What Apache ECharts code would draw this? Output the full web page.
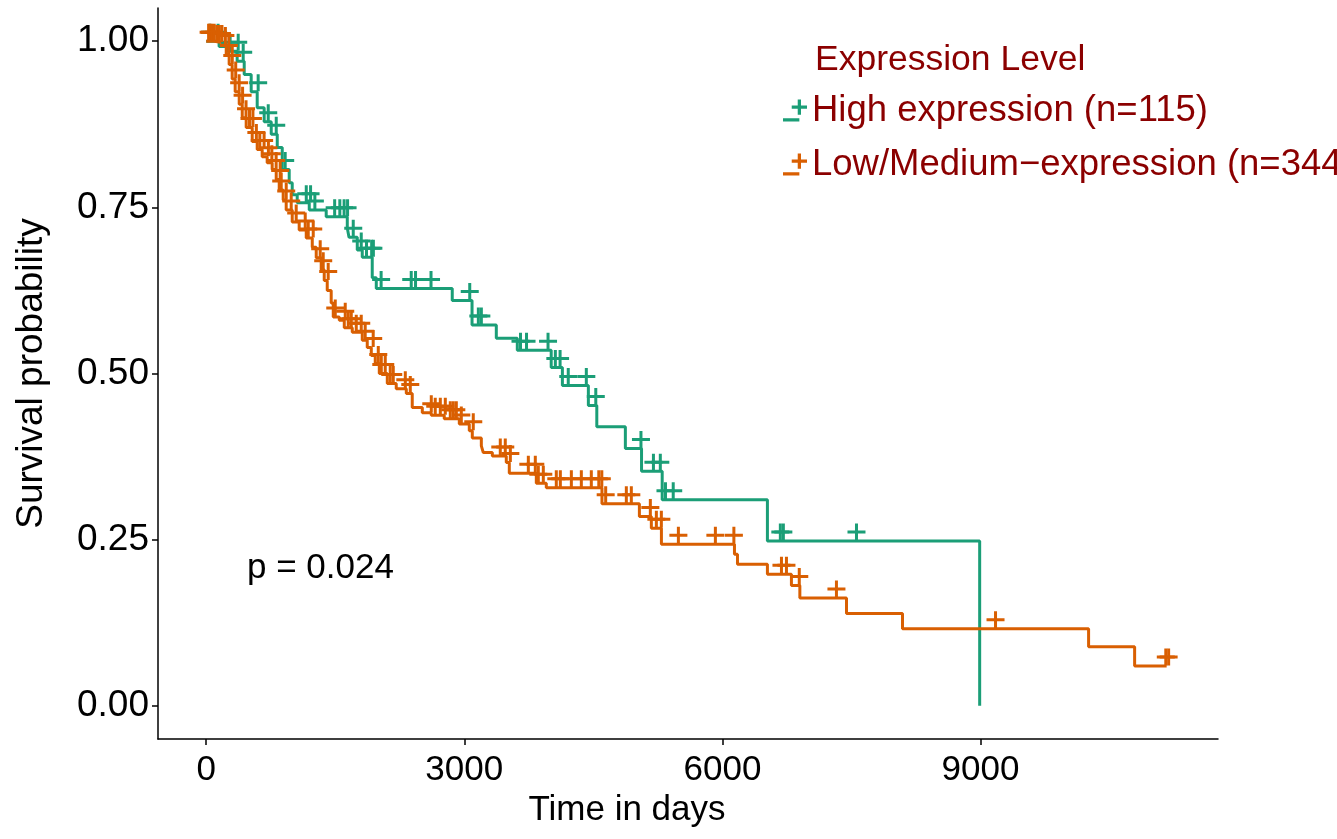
<!DOCTYPE html>
<html><head><meta charset="utf-8">
<script src="https://cdn.jsdelivr.net/npm/echarts@6/dist/echarts.min.js"></script>
<style>html,body{margin:0;padding:0;background:#fff}#c{width:1337px;height:839px}</style>
</head><body><div id="c"></div>
<script>
// ---- data ----
const seriesNames = ['High expression (n=115)', 'Low/Medium\u2212expression (n=344)'];
const legendTitle = 'Expression Level';
const pValueText = 'p = 0.024';
const xTicks = [0, 3000, 6000, 9000];
const yTicks = [0, 0.25, 0.5, 0.75, 1];

const highTimes = [0, 150, 245, 360, 442, 523, 593, 674, 756, 826, 884, 965, 1000, 1058, 1198, 1395, 1640, 1660, 1756, 1814, 1930, 1977, 2860, 3090, 3372, 3616, 4010, 4140, 4442, 4540, 4872, 5060, 5300, 6523, 8990];
const highSurv = [1.0, 0.992, 0.985, 0.970, 0.950, 0.924, 0.900, 0.879, 0.860, 0.840, 0.807, 0.787, 0.769, 0.757, 0.746, 0.736, 0.719, 0.705, 0.686, 0.675, 0.644, 0.628, 0.610, 0.573, 0.553, 0.535, 0.509, 0.482, 0.452, 0.420, 0.387, 0.353, 0.310, 0.248, 0.0];
const highCensor = [20, 115, 255, 349, 407, 581, 698, 791, 895, 1140, 1190, 1240, 1470, 1530, 1580, 1620, 1686, 1779, 1840, 1900, 1920, 2010, 2360, 2410, 2590, 3040, 3140, 3175, 3630, 3700, 3950, 4035, 4090, 4185, 4395, 4505, 5030, 5175, 5255, 5315, 5405, 6650, 6685, 7535];

const lowTimes = [0, 93, 186, 233, 267, 302, 337, 384, 419, 465, 535, 593, 651, 709, 767, 814, 849, 895, 930, 1000, 1081, 1163, 1233, 1279, 1337, 1372, 1407, 1453, 1477, 1547, 1605, 1698, 1814, 1872, 1919, 1965, 2012, 2105, 2209, 2326, 2395, 2512, 2616, 2767, 2942, 3058, 3093, 3198, 3221, 3326, 3488, 3523, 3837, 3953, 4600, 5035, 5174, 5291, 6140, 6175, 6523, 6802, 6900, 7442, 8093, 10256, 10791, 11163];
const lowSurv = [1.0, 0.998, 0.995, 0.980, 0.965, 0.943, 0.924, 0.905, 0.885, 0.870, 0.849, 0.837, 0.826, 0.817, 0.807, 0.792, 0.776, 0.761, 0.746, 0.728, 0.716, 0.704, 0.690, 0.674, 0.656, 0.640, 0.625, 0.606, 0.585, 0.580, 0.569, 0.562, 0.550, 0.539, 0.527, 0.515, 0.500, 0.485, 0.477, 0.470, 0.449, 0.441, 0.437, 0.432, 0.424, 0.414, 0.403, 0.391, 0.381, 0.376, 0.366, 0.350, 0.335, 0.328, 0.304, 0.285, 0.267, 0.243, 0.228, 0.213, 0.198, 0.181, 0.162, 0.139, 0.116, 0.089, 0.060, 0.060];
const lowCensor = [5, 20, 40, 70, 100, 130, 160, 200, 240, 280, 320, 360, 400, 440, 480, 520, 560, 600, 650, 700, 740, 790, 837, 849, 907, 965, 1023, 1128, 1163, 1221, 1302, 1337, 1395, 1477, 1593, 1628, 1663, 1721, 1779, 1825, 1918, 1977, 2012, 2058, 2116, 2151, 2291, 2349, 2593, 2639, 2698, 2756, 2814, 2849, 2884, 2942, 3081, 3395, 3453, 3512, 3721, 3802, 3837, 3895, 4046, 4093, 4221, 4337, 4453, 4540, 4575, 4620, 4860, 4918, 5139, 5209, 5267, 5465, 5895, 6110, 6663, 6721, 6870, 7302, 9151, 11130, 11163];

// ---- helpers ----
const FONT = '"Liberation Sans", Arial, Helvetica, sans-serif';
const colors = ['#1B9E77', '#D95F02'];
function stepData(times, surv) { return times.map((t, i) => [t, surv[i]]); }
function survAt(times, surv, t) {
  let s = surv[0];
  for (let i = 0; i < times.length; i++) { if (times[i] <= t) s = surv[i]; else break; }
  return s;
}
function censorData(c, times, surv) { return c.map(t => [t, survAt(times, surv, t)]); }
const plusSym = 'path://M0,7h18v3h-18z M7.5,0h3v17h-3z';
const legendIcon = 'path://M0,20h15v3h-15z M8,8.5h14v3h-14z M13.5,3h3v14h-3z';

const chart = echarts.init(document.getElementById('c'), null, { renderer: 'canvas' });

function lineSeries(name, times, surv, color) {
  return { name, type: 'line', step: 'end', data: stepData(times, surv), showSymbol: false,
    symbol: 'none', color, lineStyle: { color, width: 3 }, z: 3, animation: false };
}
function censorSeries(name, c, times, surv, color) {
  return { name, type: 'scatter', data: censorData(c, times, surv), symbol: plusSym,
    symbolSize: [18, 17], symbolOffset: [2, -9], color, itemStyle: { color, opacity: 1 }, z: 4, animation: false };
}

chart.setOption({
  animation: false,
  backgroundColor: '#fff',
  grid: { left: 158, right: 119, top: 8, bottom: 100 },
  title: { text: legendTitle, left: 810, top: 37,
    textStyle: { fontSize: 35.5, fontWeight: 'normal', color: '#8B0000', fontFamily: FONT } },
  legend: {
    orient: 'vertical', left: 778, top: 87, itemGap: 17, itemWidth: 24, itemHeight: 24,
    data: seriesNames.map(n => ({ name: n, icon: legendIcon })),
    textStyle: { fontSize: 36.5, color: '#8B0000', fontFamily: FONT },
    selectedMode: false
  },
  xAxis: {
    type: 'value', min: -560, max: 11760,
    name: 'Time in days', nameLocation: 'middle', nameGap: 52,
    nameTextStyle: { fontSize: 35, color: '#000', fontFamily: FONT, padding: [0, 122, 0, 0] },
    axisLine: { show: true, onZero: false, lineStyle: { color: '#000', width: 1.5 } },
    axisTick: { show: true, customValues: xTicks, length: 6, lineStyle: { color: '#000', width: 1.5 } },
    axisLabel: { customValues: xTicks, fontSize: 35, color: '#000', fontFamily: FONT, margin: 14,
      formatter: v => String(v) },
    splitLine: { show: false }
  },
  yAxis: {
    type: 'value', min: -0.05, max: 1.05,
    name: 'Survival probability', nameLocation: 'middle', nameGap: 108,
    nameTextStyle: { fontSize: 37, color: '#000', fontFamily: FONT },
    axisLine: { show: true, onZero: false, lineStyle: { color: '#000', width: 1.5 } },
    axisTick: { show: true, customValues: yTicks, length: 6, lineStyle: { color: '#000', width: 1.5 } },
    axisLabel: { customValues: yTicks, fontSize: 37, color: '#000', fontFamily: FONT, margin: 9,
      formatter: v => Number(v).toFixed(2) },
    splitLine: { show: false }
  },
  graphic: [{
    type: 'text', left: 247, top: 551,
    style: { text: pValueText, fontSize: 35, fontFamily: FONT, fill: '#000' }
  }],
  series: [
    lineSeries(seriesNames[0], highTimes, highSurv, colors[0]),
    censorSeries(seriesNames[0], highCensor, highTimes, highSurv, colors[0]),
    lineSeries(seriesNames[1], lowTimes, lowSurv, colors[1]),
    censorSeries(seriesNames[1], lowCensor, lowTimes, lowSurv, colors[1])
  ]
});
</script></body></html>
